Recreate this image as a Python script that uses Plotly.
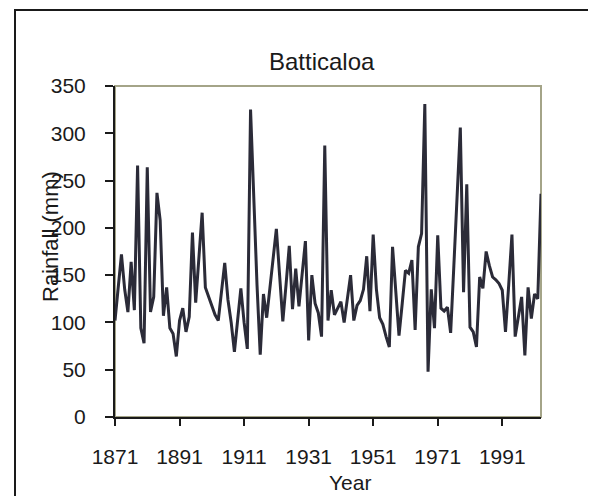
import plotly.graph_objects as go

years = list(range(1871, 2004))
rainfall = [
    102, 135, 172, 135, 111, 164, 113, 266, 94, 78,      # 1871-1880
    264, 111, 127, 237, 208, 107, 137, 94, 88, 64,       # 1881-1890
    102, 115, 90, 106, 195, 121, 170, 216, 137, 127,     # 1891-1900
    117, 108, 102, 130, 163, 124, 100, 69, 105, 136,     # 1901-1910
    100, 72, 325, 230, 140, 66, 130, 105, 135, 168,      # 1911-1920
    199, 150, 101, 140, 181, 114, 157, 117, 150, 186,    # 1921-1930
    81, 150, 120, 110, 85, 287, 102, 134, 108, 115,      # 1931-1940
    122, 100, 125, 150, 102, 118, 123, 135, 170, 112,    # 1941-1950
    193, 135, 105, 98, 85, 74, 180, 130, 86, 120,        # 1951-1960
    155, 152, 166, 92, 180, 194, 331, 48, 135, 94,       # 1961-1970
    192, 115, 112, 116, 89, 160, 232, 306, 132, 246,     # 1971-1980
    95, 90, 74, 148, 136, 175, 160, 148, 145, 141,       # 1981-1990
    134, 90, 140, 193, 85, 105, 127, 65, 137, 104,       # 1991-2000
    130, 125, 236,                                        # 2001-2003
]
tick_years = [1871, 1891, 1911, 1931, 1951, 1971, 1991]
y_ticks = [0, 50, 100, 150, 200, 250, 300, 350]

title_text = "Batticaloa"
x_title = "Year"
y_title = "Rainfall (mm)"

FONT = "Liberation Sans, Arial, sans-serif"
OFF = 8                      # page body margin
W, H = 596 - OFF, 496 - OFF
L, T = 115 - OFF, 86 - OFF
R = W - (541 - OFF)
B = H - (417 - OFF)
pw, ph = W - L - R, H - T - B

def px(x):
    return (x - OFF - L) / pw

def py(y):
    return (H - B - (y - OFF)) / ph

fig = go.Figure()
fig.add_trace(go.Scatter(
    x=years, y=rainfall, mode="lines",
    line=dict(color="#2b2b38", width=3),
    showlegend=False, hoverinfo="x+y",
))

fig.update_layout(
    width=W, height=H,
    margin=dict(l=L, r=R, t=T, b=B),
    paper_bgcolor="white", plot_bgcolor="white",
    font=dict(family=FONT, size=21, color="#1a1a1a"),
    xaxis=dict(
        range=[years[0], years[-1]],
        tickmode="array", tickvals=tick_years,
        ticktext=[str(v) for v in tick_years],
        ticks="outside", ticklen=7, tickwidth=1.5, tickcolor="#1a1a1a",
        showline=True, linecolor="#1a1a1a", linewidth=2,
        showgrid=False, zeroline=False,
        tickfont=dict(size=21),
        ticklabelstandoff=13,
    ),
    yaxis=dict(
        range=[0, 350],
        tickmode="array", tickvals=y_ticks,
        ticks="outside", ticklen=8, tickwidth=1.5, tickcolor="#1a1a1a",
        showline=True, linecolor="#1a1a1a", linewidth=2,
        showgrid=False, zeroline=False,
        tickfont=dict(size=21),
        ticklabelstandoff=15,
    ),
    shapes=[
        dict(type="rect", xref="paper", yref="paper", x0=0, x1=1, y0=0, y1=1,
             line=dict(color="#a4a488", width=2), layer="below"),
        dict(type="rect", xref="paper", yref="paper",
             x0=px(15), x1=px(591), y0=py(520), y1=py(10),
             line=dict(color="#1a1a1a", width=2), layer="below"),
    ],
    annotations=[
        dict(text=title_text, xref="paper", yref="paper", x=px(322), y=py(61),
             showarrow=False, xanchor="center", yanchor="middle",
             font=dict(size=24)),
        dict(text=x_title, xref="paper", yref="paper", x=px(350), y=py(483),
             showarrow=False, xanchor="center", yanchor="middle",
             font=dict(size=21)),
        dict(text=y_title, xref="paper", yref="paper", x=px(50), y=py(237),
             showarrow=False, xanchor="center", yanchor="middle", textangle=-90,
             font=dict(size=22)),
    ],
)

fig.write_html("out.html")
